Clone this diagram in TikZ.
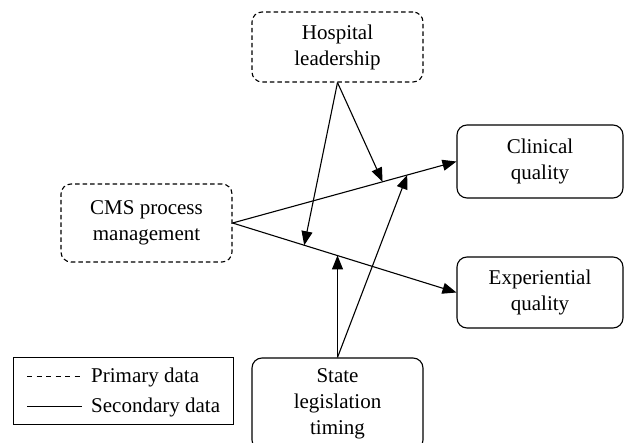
\documentclass[tikz,border=0pt]{standalone}
\usepackage{fontspec}
\setmainfont{Liberation Serif}
\usetikzlibrary{arrows.meta,calc}
\begin{document}
\begin{tikzpicture}[x=1pt,y=-1pt,
  txt/.style={font=\fontsize{21}{26}\selectfont},
  box/.style={draw, rounded corners=10pt, line width=1.1pt, align=center, txt, inner sep=0pt},
  prim/.style={box, dash pattern=on 4.5pt off 3pt},
  arr/.style={line width=1.1pt, -{Triangle[length=14pt,width=11pt]}}]
\useasboundingbox (0,0) rectangle (624,443);
\node[prim, minimum width=171pt, minimum height=70pt] (hosp) at (337.5,47) {Hospital\\leadership};
\node[prim, minimum width=171pt, minimum height=78pt] (cms) at (146.5,223) {CMS process\\management};
\node[box, minimum width=166pt, minimum height=73pt] (clin) at (540,161.5) {Clinical\\quality};
\node[box, minimum width=166pt, minimum height=71pt] (exp) at (540,292.5) {Experiential\\quality};
\node[box, minimum width=171pt, minimum height=92pt] (state) at (337.5,404) {State\\legislation\\timing};
\draw[arr] (cms.east) -- (clin.west);
\draw[arr] (cms.east) -- (exp.west);
\coordinate (p1) at ($(cms.east)!0.67!(clin.west)$);
\coordinate (p2) at ($(cms.east)!0.32!(exp.west)$);
\coordinate (p3) at ($(cms.east)!0.467!(exp.west)$);
\coordinate (p4) at ($(cms.east)!0.78!(clin.west)$);
\draw[arr] (hosp.south) -- (p1);
\draw[arr] (hosp.south) -- (p2);
\draw[arr] (state.north) -- (state.north |- p3);
\draw[arr] (state.north) -- (p4);
\node[draw, line width=1pt, minimum width=220pt, minimum height=67pt, inner sep=0pt] (leg) at (123,391.5) {};
\coordinate (l1a) at (27,377); \coordinate (l1b) at (82,377);
\coordinate (l2a) at (27,407); \coordinate (l2b) at (82,407);
\draw[line width=1pt, dash pattern=on 5pt off 4.5pt] (l1a) -- (l1b);
\draw[line width=1pt] (l2a) -- (l2b);
\node[txt, anchor=west, inner sep=0pt] (lt1) at (91,377) {Primary data};
\node[txt, anchor=west, inner sep=0pt] (lt2) at (91,407) {Secondary data};
\end{tikzpicture}
\end{document}
